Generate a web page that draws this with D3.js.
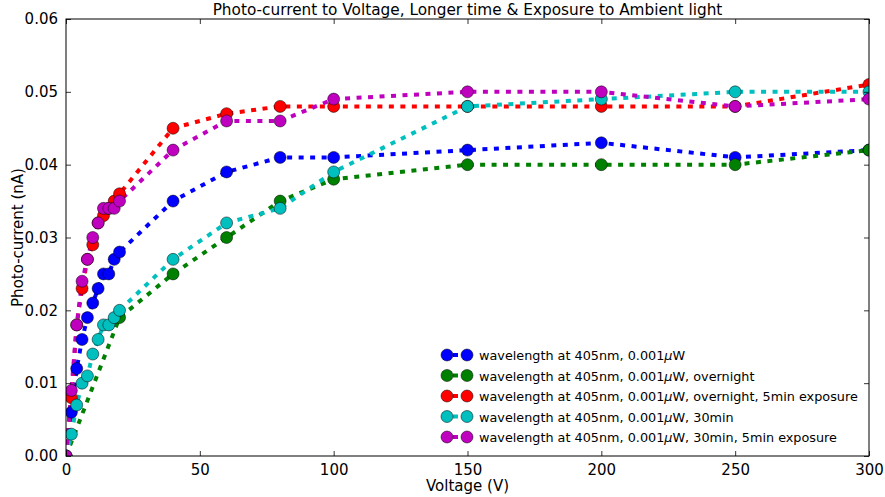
<!DOCTYPE html>
<meta charset="utf-8">
<style>
body { margin: 0; background: #fff; }
text { font-family: "DejaVu Sans", sans-serif; fill: #000; }
</style>
<body>
<script src="https://cdn.jsdelivr.net/npm/d3@7"></script>
<script>
// voltages (V) and photo-currents (nA)
var voltsFine = [0, 2, 4, 6, 8, 10, 12, 14, 16, 18, 20, 40, 60, 80, 100, 150, 200, 250, 300];
var voltsCoarse = [0, 20, 40, 60, 80, 100, 150, 200, 250, 300];

var blueVals = [0, 0.006, 0.012, 0.016, 0.019, 0.021, 0.023, 0.025, 0.025, 0.027, 0.028, 0.035, 0.039, 0.041, 0.041, 0.042, 0.043, 0.041, 0.042];
var greenVals = [0, 0.019, 0.025, 0.030, 0.035, 0.038, 0.040, 0.040, 0.040, 0.042];
var redVals = [0, 0.008, 0.018, 0.023, 0.027, 0.029, 0.032, 0.033, 0.034, 0.035, 0.036, 0.045, 0.047, 0.048, 0.048, 0.048, 0.048, 0.048, 0.051];
var cyanVals = [0, 0.003, 0.007, 0.010, 0.011, 0.014, 0.016, 0.018, 0.018, 0.019, 0.020, 0.027, 0.032, 0.034, 0.039, 0.048, 0.049, 0.050, 0.050];
var magentaVals = [0, 0.009, 0.018, 0.024, 0.027, 0.030, 0.032, 0.034, 0.034, 0.034, 0.035, 0.042, 0.046, 0.046, 0.049, 0.050, 0.050, 0.048, 0.049];

var seriesNames = [
    "wavelength at 405nm, 0.001|W",
    "wavelength at 405nm, 0.001|W, overnight",
    "wavelength at 405nm, 0.001|W, overnight, 5min exposure",
    "wavelength at 405nm, 0.001|W, 30min",
    "wavelength at 405nm, 0.001|W, 30min, 5min exposure"
];
var seriesColors = ["#0000ff", "#008000", "#ff0000", "#00bfbf", "#bf00bf"];
var xTicks = [0, 50, 100, 150, 200, 250, 300];
var yTicks = [0, 0.01, 0.02, 0.03, 0.04, 0.05, 0.06];

var series = [
    { x: voltsFine, y: blueVals },
    { x: voltsCoarse, y: greenVals },
    { x: voltsFine, y: redVals },
    { x: voltsFine, y: cyanVals },
    { x: voltsFine, y: magentaVals }
];

var W = 885, H = 497;
var mLeft = 66, mRight = 869, mTop = 19, mBottom = 456;

var svg = d3.select("body").append("svg")
    .attr("width", W)
    .attr("height", H);

var x = d3.scaleLinear().domain([0, 300]).range([mLeft, mRight]);
var y = d3.scaleLinear().domain([0, 0.06]).range([mBottom, mTop]);

svg.append("clipPath").attr("id", "clip")
    .append("rect")
    .attr("x", mLeft).attr("y", mTop)
    .attr("width", mRight - mLeft).attr("height", mBottom - mTop);

var plot = svg.append("g").attr("clip-path", "url(#clip)");

var line = d3.line()
    .x(function(d) { return x(d[0]); })
    .y(function(d) { return y(d[1]); });

series.forEach(function(s, i) {
    var pts = s.x.map(function(v, j) { return [v, s.y[j]]; });
    plot.append("path")
        .attr("d", line(pts))
        .attr("fill", "none")
        .attr("stroke", seriesColors[i])
        .attr("stroke-width", 4)
        .attr("stroke-dasharray", "5,6.5");
});

series.forEach(function(s, i) {
    var pts = s.x.map(function(v, j) { return [v, s.y[j]]; });
    plot.selectAll(null)
        .data(pts)
        .enter().append("circle")
        .attr("cx", function(d) { return x(d[0]); })
        .attr("cy", function(d) { return y(d[1]); })
        .attr("r", 6)
        .attr("fill", seriesColors[i])
        .attr("stroke", "#000")
        .attr("stroke-width", 0.5);
});

// axes, ticks pointing inward like matplotlib classic
var xAxisB = d3.axisBottom(x).tickValues(xTicks).tickSizeInner(-5).tickSizeOuter(0).tickPadding(8).tickFormat(d3.format("d"));
var xAxisT = d3.axisTop(x).tickValues(xTicks).tickSizeInner(-5).tickSizeOuter(0).tickFormat("");
var yAxisL = d3.axisLeft(y).tickValues(yTicks).tickSizeInner(-5).tickSizeOuter(0).tickPadding(8).tickFormat(d3.format(".2f"));
var yAxisR = d3.axisRight(y).tickValues(yTicks).tickSizeInner(-5).tickSizeOuter(0).tickFormat("");

function styleAxis(g) {
    g.select(".domain").remove();
    g.selectAll("line").attr("stroke", "#000").attr("stroke-width", 0.8);
    g.selectAll("text").attr("font-size", 15).attr("font-family", "DejaVu Sans, sans-serif").attr("fill", "#000");
}

svg.append("g").attr("transform", "translate(0," + mBottom + ")").call(xAxisB).call(styleAxis);
svg.append("g").attr("transform", "translate(0," + mTop + ")").call(xAxisT).call(styleAxis);
svg.append("g").attr("transform", "translate(" + mLeft + ",0)").call(yAxisL).call(styleAxis);
svg.append("g").attr("transform", "translate(" + mRight + ",0)").call(yAxisR).call(styleAxis);

svg.append("rect")
    .attr("x", mLeft).attr("y", mTop)
    .attr("width", mRight - mLeft).attr("height", mBottom - mTop)
    .attr("fill", "none")
    .attr("stroke", "#000")
    .attr("stroke-width", 1);

svg.append("text")
    .attr("x", (mLeft + mRight) / 2).attr("y", 15)
    .attr("text-anchor", "middle")
    .attr("font-size", 15.3)
    .text("Photo-current to Voltage, Longer time & Exposure to Ambient light");

svg.append("text")
    .attr("x", (mLeft + mRight) / 2).attr("y", 491)
    .attr("text-anchor", "middle")
    .attr("font-size", 15)
    .text("Voltage (V)");

svg.append("text")
    .attr("transform", "translate(23," + ((mTop + mBottom) / 2) + ") rotate(-90)")
    .attr("text-anchor", "middle")
    .attr("font-size", 15)
    .text("Photo-current (nA)");

// legend, no frame
var legend = svg.append("g");
seriesNames.forEach(function(name, i) {
    var ly = 355 + i * 20.5;
    var c = seriesColors[i];
    legend.append("line")
        .attr("x1", 447).attr("x2", 467)
        .attr("y1", ly).attr("y2", ly)
        .attr("stroke", c).attr("stroke-width", 4)
        .attr("stroke-dasharray", "5,6.5")
        .attr("stroke-dashoffset", -6);
    [447, 467].forEach(function(cx) {
        legend.append("circle")
            .attr("cx", cx).attr("cy", ly).attr("r", 6)
            .attr("fill", c).attr("stroke", "#000").attr("stroke-width", 0.5);
    });
    var parts = name.split("|");
    var t = legend.append("text")
        .attr("x", 479).attr("y", ly + 5)
        .attr("font-size", 12.8);
    t.append("tspan").text(parts[0]);
    t.append("tspan").attr("font-style", "italic").text("\u03bc");
    t.append("tspan").text(parts[1]);
});
</script>
</body>
